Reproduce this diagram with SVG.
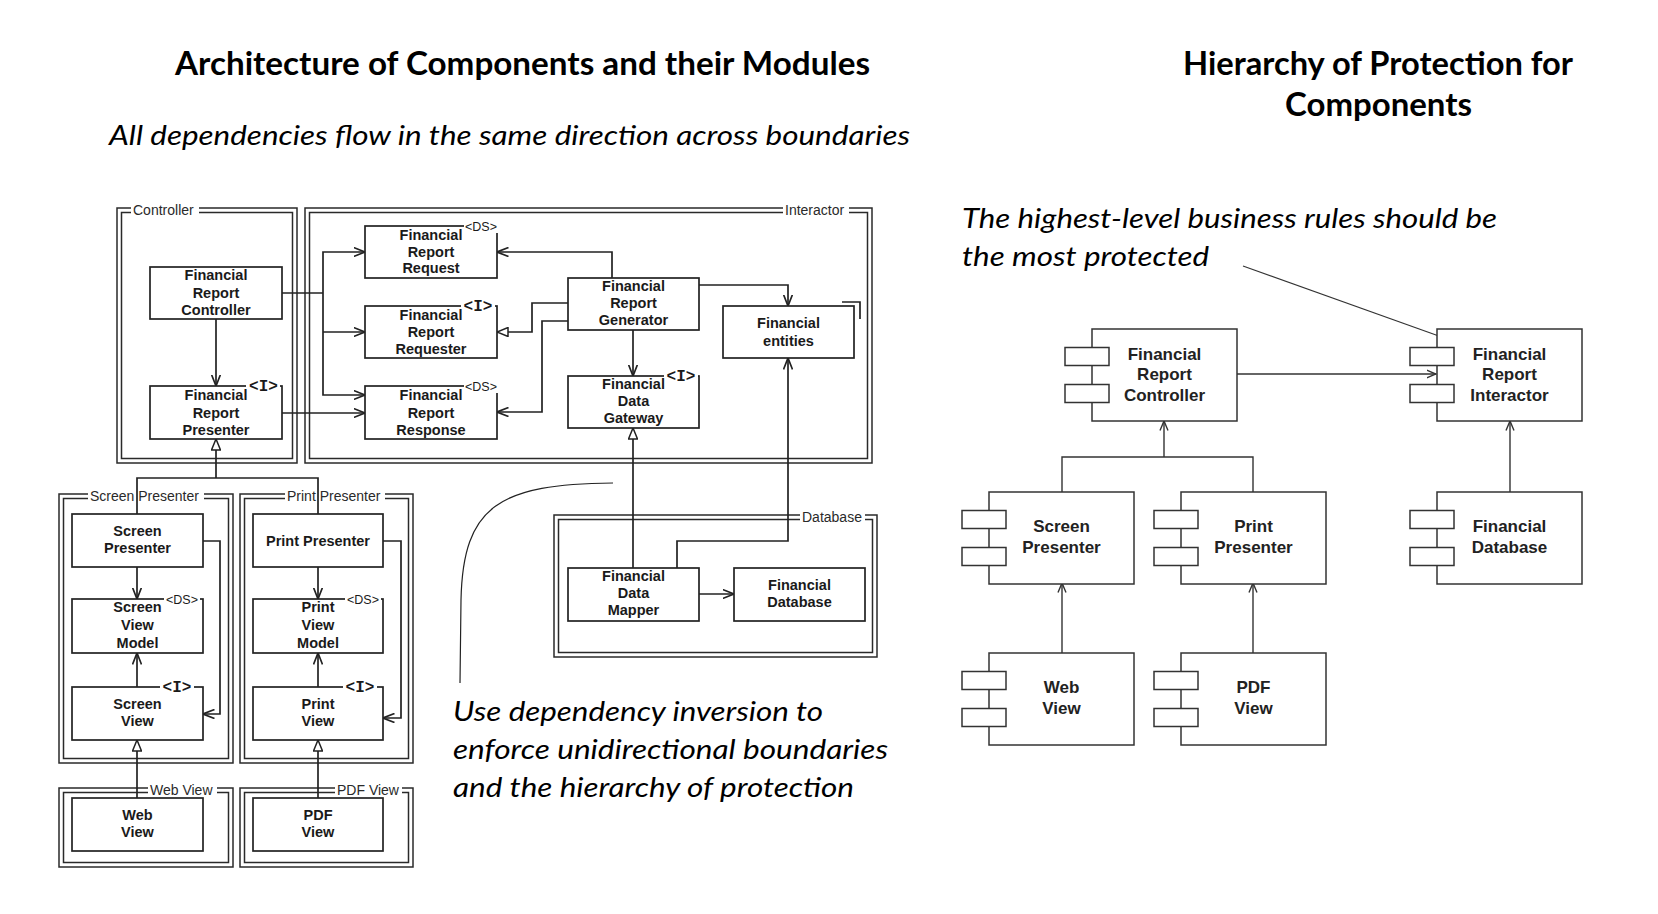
<svg xmlns="http://www.w3.org/2000/svg" width="1658" height="914" viewBox="0 0 1658 914">
<style>
.h{font-family:Lato,"Liberation Sans",sans-serif;font-weight:bold;font-size:32px;fill:#000}
.it{font-family:Lato,"Liberation Sans",sans-serif;font-style:italic;font-size:27px;fill:#000}
.pk{fill:none;stroke:#2a2a2a;stroke-width:1.5}
.pl{font-family:"Liberation Sans",Arial,sans-serif;font-size:14px;fill:#2a2a2a}
.lb{fill:#fff}
.bx{fill:#fff;stroke:#222;stroke-width:1.7}
.tx{font-family:"Liberation Sans",Arial,sans-serif;font-weight:bold;font-size:14.5px;fill:#1a1a1a;text-anchor:middle}
.ds{font-family:"Liberation Sans",Arial,sans-serif;font-size:12.5px;fill:#1a1a1a;text-anchor:middle}
.ii{font-family:"Liberation Mono","Courier New",monospace;font-weight:bold;font-size:16px;fill:#1a1a1a;text-anchor:middle}
.cn{fill:none;stroke:#222;stroke-width:1.7}
.rc{fill:#fff;stroke:#333;stroke-width:1.5}
.rt{font-family:"Liberation Sans",Arial,sans-serif;font-weight:bold;font-size:17px;fill:#222;text-anchor:middle}
.rl{fill:none;stroke:#333;stroke-width:1.4}
</style>
<defs>
<marker id="oa" viewBox="0 0 12 10" refX="11.5" refY="5" markerWidth="12" markerHeight="10" markerUnits="userSpaceOnUse" orient="auto">
<path d="M0,0.5 L11.5,5 L0,9.5" fill="none" stroke="#222" stroke-width="1.7"/>
</marker>
<marker id="tr" viewBox="0 0 12 10" refX="11.5" refY="5" markerWidth="12" markerHeight="10" markerUnits="userSpaceOnUse" orient="auto">
<path d="M0.5,0.5 L11.5,5 L0.5,9.5 Z" fill="#fff" stroke="#222" stroke-width="1.5"/>
</marker>
<marker id="ra" viewBox="0 0 10 10" refX="9.5" refY="5" markerWidth="10" markerHeight="10" markerUnits="userSpaceOnUse" orient="auto">
<path d="M0,1 L9.5,5 L0,9" fill="none" stroke="#333" stroke-width="1.4"/>
</marker>
</defs>
<rect width="1658" height="914" fill="#fff"/>

<g id="titles">
<text class="h" x="175" y="75" textLength="695" lengthAdjust="spacingAndGlyphs">Architecture of Components and their Modules</text>
<text class="it" x="109" y="145" textLength="801" lengthAdjust="spacingAndGlyphs">All dependencies flow in the same direction across boundaries</text>
<text class="h" x="1183" y="75" textLength="390" lengthAdjust="spacingAndGlyphs">Hierarchy of Protection for</text>
<text class="h" x="1285" y="116" textLength="187" lengthAdjust="spacingAndGlyphs">Components</text>
<text class="it" x="962" y="228" textLength="535" lengthAdjust="spacingAndGlyphs">The highest-level business rules should be</text>
<text class="it" x="962" y="266" textLength="247" lengthAdjust="spacingAndGlyphs">the most protected</text>
<text class="it" x="453" y="721" textLength="370" lengthAdjust="spacingAndGlyphs">Use dependency inversion to</text>
<text class="it" x="453" y="759" textLength="435" lengthAdjust="spacingAndGlyphs">enforce unidirectional boundaries</text>
<text class="it" x="453" y="797" textLength="401" lengthAdjust="spacingAndGlyphs">and the hierarchy of protection</text>
</g>

<g id="packages">
<g id="pkg-controller"><rect class="pk" x="117" y="208" width="180" height="255"/><rect class="pk" x="121.5" y="212.5" width="171" height="246"/><rect class="lb" x="131" y="203" width="68" height="14"/><text class="pl" x="133" y="215">Controller</text></g>
<g id="pkg-interactor"><rect class="pk" x="305" y="208" width="567" height="255"/><rect class="pk" x="309.5" y="212.5" width="558" height="246"/><rect class="lb" x="783" y="203" width="66" height="14"/><text class="pl" x="785" y="215">Interactor</text></g>
<g id="pkg-screen"><rect class="pk" x="59" y="494" width="174" height="269"/><rect class="pk" x="63.5" y="498.5" width="165" height="260"/><rect class="lb" x="88" y="489" width="116" height="14"/><text class="pl" x="90" y="501">Screen Presenter</text></g>
<g id="pkg-print"><rect class="pk" x="240" y="494" width="173" height="269"/><rect class="pk" x="244.5" y="498.5" width="164" height="260"/><rect class="lb" x="285" y="489" width="100" height="14"/><text class="pl" x="287" y="501">Print Presenter</text></g>
<g id="pkg-web"><rect class="pk" x="59" y="788" width="174" height="79"/><rect class="pk" x="63.5" y="792.5" width="165" height="70"/><rect class="lb" x="148" y="783" width="69" height="14"/><text class="pl" x="150" y="795">Web View</text></g>
<g id="pkg-pdf"><rect class="pk" x="240" y="788" width="173" height="79"/><rect class="pk" x="244.5" y="792.5" width="164" height="70"/><rect class="lb" x="335" y="783" width="67" height="14"/><text class="pl" x="337" y="795">PDF View</text></g>
<g id="pkg-database"><rect class="pk" x="554" y="515" width="323" height="142"/><rect class="pk" x="558.5" y="519.5" width="314" height="133"/><rect class="lb" x="800" y="510" width="65" height="14"/><text class="pl" x="802" y="522">Database</text></g>
</g>

<g id="connectors">
<path class="cn" d="M282,293 H323"/>
<path class="cn" d="M323,293 V252 H365" marker-end="url(#oa)"/>
<path class="cn" d="M323,293 V395 H365" marker-end="url(#oa)"/>
<path class="cn" d="M323,332 H365" marker-end="url(#oa)"/>
<path class="cn" d="M216,319 V386" marker-end="url(#oa)"/>
<path class="cn" d="M282,413 H365" marker-end="url(#oa)"/>
<path class="cn" d="M137,514 V478 H318 V514"/>
<path class="cn" d="M216,478 V439" marker-end="url(#tr)"/>
<path class="cn" d="M612,278 V252 H497" marker-end="url(#oa)"/>
<path class="cn" d="M568,303 H532 V332 H497" marker-end="url(#tr)"/>
<path class="cn" d="M568,321 H542 V412 H497" marker-end="url(#oa)"/>
<path class="cn" d="M633,330 V376" marker-end="url(#oa)"/>
<path class="cn" d="M699,285 H788 V306" marker-end="url(#oa)"/>
<path class="cn" d="M633,568 V428" marker-end="url(#tr)"/>
<path class="cn" d="M677,568 V541 H788 V358" marker-end="url(#oa)"/>
<path class="cn" d="M699,594 H734" marker-end="url(#oa)"/>
<path class="cn" d="M137,567 V599" marker-end="url(#oa)"/>
<path class="cn" d="M137,687 V653" marker-end="url(#oa)"/>
<path class="cn" d="M203,541 H220 V714 H203" marker-end="url(#oa)"/>
<path class="cn" d="M137,798 V740" marker-end="url(#tr)"/>
<path class="cn" d="M318,567 V599" marker-end="url(#oa)"/>
<path class="cn" d="M318,687 V653" marker-end="url(#oa)"/>
<path class="cn" d="M383,541 H401 V718 H383" marker-end="url(#oa)"/>
<path class="cn" d="M318,798 V740" marker-end="url(#tr)"/>
<path class="rl" d="M1236,374 H1436" marker-end="url(#ra)"/>
<path class="rl" d="M1062,492 V457 H1253 V492"/>
<path class="rl" d="M1164,457 V421" marker-end="url(#ra)"/>
<path class="rl" d="M1062,653 V583" marker-end="url(#ra)"/>
<path class="rl" d="M1253,653 V583" marker-end="url(#ra)"/>
<path class="rl" d="M1510,492 V421" marker-end="url(#ra)"/>
<path fill="none" stroke="#333" stroke-width="1.1" d="M1243,266 L1450,340"/>
<path fill="none" stroke="#222" stroke-width="1.2" d="M613,483 C500,484 463,505 461,600 L460,683"/>
</g>

<g id="frc"><rect class="bx" x="150" y="267" width="132" height="52"/><text class="tx"><tspan x="216" y="280">Financial</tspan><tspan x="216" y="298">Report</tspan><tspan x="216" y="315">Controller</tspan></text></g>
<g id="frp"><rect class="bx" x="150" y="386" width="132" height="53"/><rect class="lb" x="246" y="379" width="34" height="13"/><text class="ii" x="263.5" y="391">&lt;I&gt;</text><text class="tx"><tspan x="216" y="400">Financial</tspan><tspan x="216" y="418">Report</tspan><tspan x="216" y="435">Presenter</tspan></text></g>
<g id="frreq"><rect class="bx" x="365" y="226" width="132" height="52"/><rect class="lb" x="464" y="219" width="36" height="14"/><text class="ds" x="481" y="230.5">&lt;DS&gt;</text><text class="tx"><tspan x="431" y="240">Financial</tspan><tspan x="431" y="257">Report</tspan><tspan x="431" y="273">Request</tspan></text></g>
<g id="frrqr"><rect class="bx" x="365" y="306" width="132" height="52"/><rect class="lb" x="461" y="299" width="34" height="13"/><text class="ii" x="478" y="311">&lt;I&gt;</text><text class="tx"><tspan x="431" y="320">Financial</tspan><tspan x="431" y="337">Report</tspan><tspan x="431" y="354">Requester</tspan></text></g>
<g id="frresp"><rect class="bx" x="365" y="386" width="132" height="53"/><rect class="lb" x="464" y="379" width="36" height="14"/><text class="ds" x="481" y="390.5">&lt;DS&gt;</text><text class="tx"><tspan x="431" y="400">Financial</tspan><tspan x="431" y="418">Report</tspan><tspan x="431" y="435">Response</tspan></text></g>
<g id="gen"><rect class="bx" x="568" y="278" width="131" height="52"/><text class="tx"><tspan x="633.5" y="291">Financial</tspan><tspan x="633.5" y="308">Report</tspan><tspan x="633.5" y="325">Generator</tspan></text></g>
<g id="entities"><rect class="bx" x="723" y="306" width="131" height="52"/><path class="cn" d="M842,302 H860 V319"/><text class="tx"><tspan x="788.5" y="328">Financial</tspan><tspan x="788.5" y="346">entities</tspan></text></g>
<g id="gateway"><rect class="bx" x="568" y="376" width="131" height="52"/><rect class="lb" x="664" y="369" width="34" height="13"/><text class="ii" x="681" y="381">&lt;I&gt;</text><text class="tx"><tspan x="633.5" y="389">Financial</tspan><tspan x="633.5" y="406">Data</tspan><tspan x="633.5" y="423">Gateway</tspan></text></g>
<g id="mapper"><rect class="bx" x="568" y="568" width="131" height="53"/><text class="tx"><tspan x="633.5" y="581">Financial</tspan><tspan x="633.5" y="598">Data</tspan><tspan x="633.5" y="615">Mapper</tspan></text></g>
<g id="findb"><rect class="bx" x="734" y="568" width="131" height="53"/><text class="tx"><tspan x="799.5" y="590">Financial</tspan><tspan x="799.5" y="607">Database</tspan></text></g>
<g id="spres"><rect class="bx" x="72" y="514" width="131" height="53"/><text class="tx"><tspan x="137.5" y="536">Screen</tspan><tspan x="137.5" y="553">Presenter</tspan></text></g>
<g id="svm"><rect class="bx" x="72" y="599" width="131" height="54"/><rect class="lb" x="164" y="592" width="36" height="14"/><text class="ds" x="182" y="603.5">&lt;DS&gt;</text><text class="tx"><tspan x="137.5" y="612">Screen</tspan><tspan x="137.5" y="630">View</tspan><tspan x="137.5" y="648">Model</tspan></text></g>
<g id="sv"><rect class="bx" x="72" y="687" width="131" height="53"/><rect class="lb" x="160" y="680" width="34" height="13"/><text class="ii" x="177" y="692">&lt;I&gt;</text><text class="tx"><tspan x="137.5" y="709">Screen</tspan><tspan x="137.5" y="726">View</tspan></text></g>
<g id="ppres"><rect class="bx" x="253" y="514" width="130" height="53"/><text class="tx" x="318" y="545.5">Print Presenter</text></g>
<g id="pvm"><rect class="bx" x="253" y="599" width="130" height="54"/><rect class="lb" x="345" y="592" width="36" height="14"/><text class="ds" x="363" y="603.5">&lt;DS&gt;</text><text class="tx"><tspan x="318" y="612">Print</tspan><tspan x="318" y="630">View</tspan><tspan x="318" y="648">Model</tspan></text></g>
<g id="pv"><rect class="bx" x="253" y="687" width="130" height="53"/><rect class="lb" x="343" y="680" width="34" height="13"/><text class="ii" x="360" y="692">&lt;I&gt;</text><text class="tx"><tspan x="318" y="709">Print</tspan><tspan x="318" y="726">View</tspan></text></g>
<g id="webview"><rect class="bx" x="72" y="798" width="131" height="53"/><text class="tx"><tspan x="137.5" y="820">Web</tspan><tspan x="137.5" y="837">View</tspan></text></g>
<g id="pdfview"><rect class="bx" x="253" y="798" width="130" height="53"/><text class="tx"><tspan x="318" y="820">PDF</tspan><tspan x="318" y="837">View</tspan></text></g>

<g id="c-controller"><rect class="rc" x="1092" y="329" width="145" height="92"/><rect class="rc" x="1065" y="347.5" width="44" height="18"/><rect class="rc" x="1065" y="384.5" width="44" height="18"/><text class="rt"><tspan x="1164.5" y="359.5">Financial</tspan><tspan x="1164.5" y="380">Report</tspan><tspan x="1164.5" y="400.5">Controller</tspan></text></g>
<g id="c-interactor"><rect class="rc" x="1437" y="329" width="145" height="92"/><rect class="rc" x="1410" y="347.5" width="44" height="18"/><rect class="rc" x="1410" y="384.5" width="44" height="18"/><text class="rt"><tspan x="1509.5" y="359.5">Financial</tspan><tspan x="1509.5" y="380">Report</tspan><tspan x="1509.5" y="400.5">Interactor</tspan></text></g>
<g id="c-screen"><rect class="rc" x="989" y="492" width="145" height="92"/><rect class="rc" x="962" y="510.5" width="44" height="18"/><rect class="rc" x="962" y="547.5" width="44" height="18"/><text class="rt"><tspan x="1061.5" y="532">Screen</tspan><tspan x="1061.5" y="553">Presenter</tspan></text></g>
<g id="c-print"><rect class="rc" x="1181" y="492" width="145" height="92"/><rect class="rc" x="1154" y="510.5" width="44" height="18"/><rect class="rc" x="1154" y="547.5" width="44" height="18"/><text class="rt"><tspan x="1253.5" y="532">Print</tspan><tspan x="1253.5" y="553">Presenter</tspan></text></g>
<g id="c-findb"><rect class="rc" x="1437" y="492" width="145" height="92"/><rect class="rc" x="1410" y="510.5" width="44" height="18"/><rect class="rc" x="1410" y="547.5" width="44" height="18"/><text class="rt"><tspan x="1509.5" y="532">Financial</tspan><tspan x="1509.5" y="553">Database</tspan></text></g>
<g id="c-web"><rect class="rc" x="989" y="653" width="145" height="92"/><rect class="rc" x="962" y="671.5" width="44" height="18"/><rect class="rc" x="962" y="708.5" width="44" height="18"/><text class="rt"><tspan x="1061.5" y="693">Web</tspan><tspan x="1061.5" y="714">View</tspan></text></g>
<g id="c-pdf"><rect class="rc" x="1181" y="653" width="145" height="92"/><rect class="rc" x="1154" y="671.5" width="44" height="18"/><rect class="rc" x="1154" y="708.5" width="44" height="18"/><text class="rt"><tspan x="1253.5" y="693">PDF</tspan><tspan x="1253.5" y="714">View</tspan></text></g>
</svg>
